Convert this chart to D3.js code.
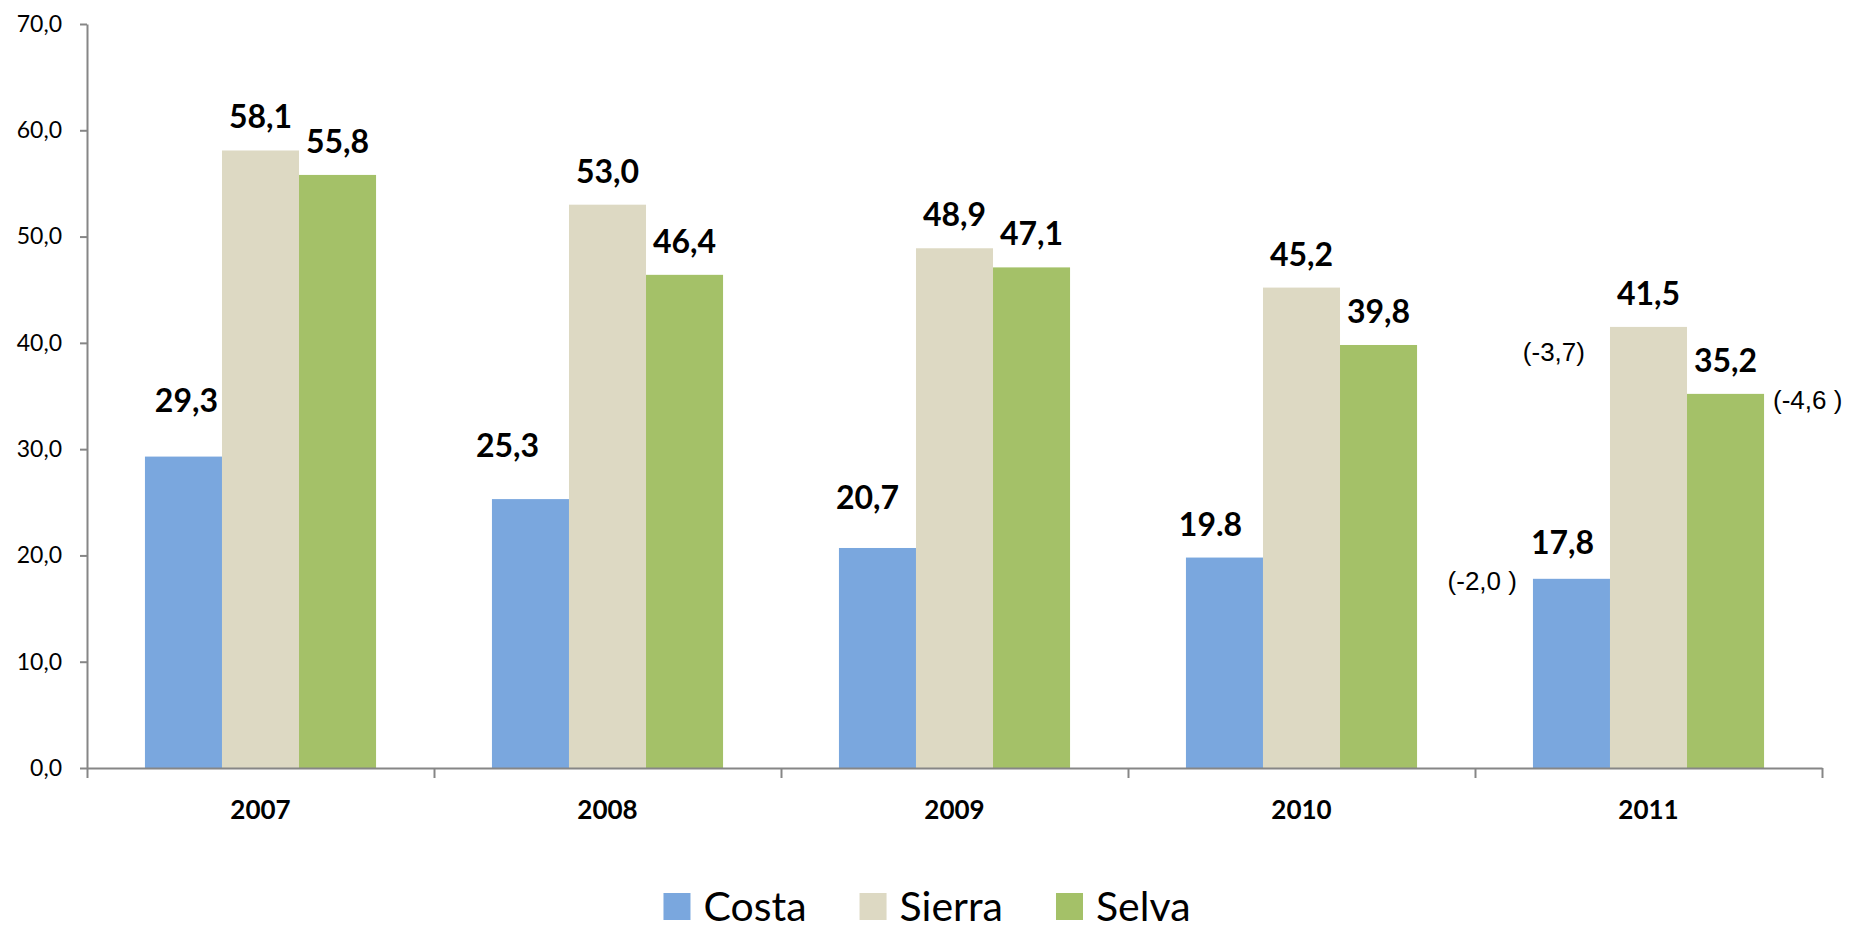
<!DOCTYPE html>
<html>
<head>
<meta charset="utf-8">
<script src="https://cdn.jsdelivr.net/npm/d3@7"></script>
<style>
    body { margin: 0; background: #fff; }
    svg { display: block; }
</style>
</head>
<body>
<svg width="1850" height="929"></svg>
<script>
const years = ["2007", "2008", "2009", "2010", "2011"];
const series = ["Costa", "Sierra", "Selva"];
const costa = [29.3, 25.3, 20.7, 19.8, 17.8];
const sierra = [58.1, 53.0, 48.9, 45.2, 41.5];
const selva = [55.8, 46.4, 47.1, 39.8, 35.2];
const costaText = ["29,3", "25,3", "20,7", "19.8", "17,8"];
const yTicks = [0, 10, 20, 30, 40, 50, 60, 70];
// variaciones 2011
const notes = [
    { series: "Costa", text: "(-2,0 )" },
    { series: "Sierra", text: "(-3,7)" },
    { series: "Selva", text: "(-4,6 )" }
];

const colors = {
    Costa: "#7aa7de",
    Sierra: "#ddd9c3",
    Selva: "#a4c168"
};

const attr = {
    left: 87,
    right: 1822,
    top: 24,
    bottom: 768
};

const svg = d3.select("svg");

const rows = years.map((y, i) => ({
    year: y,
    Costa: costa[i],
    Sierra: sierra[i],
    Selva: selva[i],
    costaLabel: costaText[i]
}));

const scX = d3.scaleBand()
    .domain(years)
    .range([attr.left, attr.right])
    .paddingInner(0.334)
    .paddingOuter(0.167);

const scS = d3.scaleBand()
    .domain(series)
    .range([0, scX.bandwidth()]);

const scY = d3.scaleLinear()
    .domain([0, 70])
    .range([attr.bottom, attr.top]);

// eje Y
const gy = svg.append("g")
    .attr("transform", `translate(${attr.left},0)`)
    .call(d3.axisLeft(scY)
        .tickValues(yTicks)
        .tickSize(7)
        .tickPadding(18)
        .tickSizeOuter(0)
        .tickFormat(d => d.toFixed(1).replace(".", ",")));
gy.select(".domain").attr("stroke", "#868686").attr("stroke-width", 2);
gy.selectAll(".tick line").attr("stroke", "#868686").attr("stroke-width", 2);
gy.selectAll("text")
    .style("font-family", "Lato, sans-serif")
    .style("font-size", "23px")
    .attr("fill", "#000");

// barras
const groups = svg.append("g")
    .selectAll("g")
    .data(rows)
    .enter()
    .append("g")
    .attr("transform", d => `translate(${scX(d.year)},0)`);

groups.selectAll("rect")
    .data(d => series.map(s => ({ key: s, value: d[s] })))
    .enter()
    .append("rect")
    .attr("x", d => scS(d.key))
    .attr("y", d => scY(d.value))
    .attr("width", scS.bandwidth())
    .attr("height", d => attr.bottom - scY(d.value))
    .attr("fill", d => colors[d.key]);

// eje X
const scB = d3.scaleLinear()
    .domain([0, years.length])
    .range([attr.left, attr.right]);

const gx = svg.append("g")
    .attr("transform", `translate(0,${attr.bottom})`)
    .call(d3.axisBottom(scB)
        .ticks(years.length)
        .tickSize(10)
        .tickSizeOuter(0)
        .tickFormat(""));
gx.select(".domain").attr("stroke", "#868686").attr("stroke-width", 2);
gx.selectAll(".tick line").attr("stroke", "#868686").attr("stroke-width", 2);

svg.append("g")
    .selectAll("text")
    .data(years)
    .enter()
    .append("text")
    .attr("x", d => scX(d) + scX.bandwidth() / 2)
    .attr("y", 819)
    .attr("text-anchor", "middle")
    .style("font-family", "Lato, sans-serif")
    .style("font-weight", "bold")
    .style("font-size", "26px")
    .text(d => d);

// etiquetas de valores
const labelStyle = sel => sel
    .attr("text-anchor", "middle")
    .style("font-family", "Lato, sans-serif")
    .style("font-weight", "bold")
    .style("font-size", "32px")
    .attr("fill", "#000");

const costaShift = [[3, -45], [-23, -42], [-10, -39], [-14, -22], [-9, -25]];

groups.append("text")
    .attr("x", (d, i) => scS("Costa") + scS.bandwidth() / 2 + costaShift[i][0])
    .attr("y", (d, i) => scY(d.Costa) + costaShift[i][1])
    .call(labelStyle)
    .text(d => d.costaLabel);

["Sierra", "Selva"].forEach(s => {
    groups.append("text")
        .attr("x", scS(s) + scS.bandwidth() / 2)
        .attr("y", d => scY(d[s]) - 22)
        .call(labelStyle)
        .text(d => d[s].toFixed(1).replace(".", ","));
});

// variaciones
const last = rows[rows.length - 1];
const x0 = scX(last.year);
const notePos = {
    Costa: { x: x0 + scS("Costa") - 16, dy: 11, anchor: "end" },
    Sierra: { x: x0 + scS("Sierra") - 25, dy: 34, anchor: "end" },
    Selva: { x: x0 + scS("Selva") + scS.bandwidth() + 9, dy: 15, anchor: "start" }
};

svg.append("g")
    .selectAll("text")
    .data(notes)
    .enter()
    .append("text")
    .attr("x", d => notePos[d.series].x)
    .attr("y", d => scY(last[d.series]) + notePos[d.series].dy)
    .attr("text-anchor", d => notePos[d.series].anchor)
    .style("font-family", "'Liberation Sans', Arial, sans-serif")
    .style("font-size", "26px")
    .attr("fill", "#000")
    .text(d => d.text);

// leyenda
const legend = svg.append("g");
let lx = 0;
series.forEach(s => {
    const item = legend.append("g").attr("transform", `translate(${lx},0)`);
    item.append("rect")
        .attr("x", 0)
        .attr("y", 893)
        .attr("width", 27)
        .attr("height", 27)
        .attr("fill", colors[s]);
    const t = item.append("text")
        .attr("x", 40)
        .attr("y", 921)
        .style("font-family", "Lato, sans-serif")
        .style("font-size", "41px")
        .attr("fill", "#000")
        .text(s);
    const w = t.node().getComputedTextLength();
    lx += 40 + w + 53;
});
const lw = lx - 53;
legend.attr("transform", `translate(${927 - lw / 2},0)`);
</script>
</body>
</html>
